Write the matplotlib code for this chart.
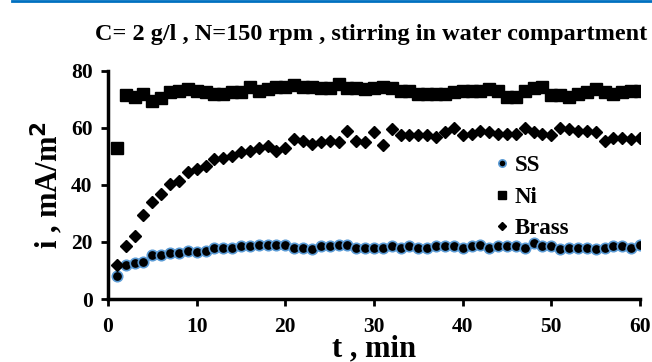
import matplotlib
matplotlib.use("Agg")
import matplotlib.pyplot as plt
from matplotlib.lines import Line2D

# time axis, minutes
t = list(range(1, 61))

# current density, mA/m2
ss = [8, 12, 12.5, 13, 15.5, 15.5, 16, 16, 17, 16.5,
      17, 18, 18, 18, 18.5, 18.5, 19, 19, 19, 19,
      18, 18, 17.5, 18.5, 18.5, 19, 19, 18, 18, 18,
      18, 18.5, 18, 18.5, 18, 18, 18.5, 18.5, 18.5, 18,
      18.5, 19, 18, 18.5, 18.5, 18.5, 18, 19.5, 18.5, 18.5,
      17.5, 18, 18, 18, 17.5, 18, 18.5, 18.5, 18, 19]
ni = [53, 71.5, 71, 72, 69.5, 70.5, 72.5, 73, 73.5, 73,
      72.5, 72, 72, 72.5, 72.5, 74.5, 73, 73.5, 74.5, 74.5,
      75, 74.5, 74.5, 74, 74, 75.5, 74, 74, 73.5, 74,
      74.5, 74, 73, 73, 72, 72, 72, 72, 72.5, 73,
      73, 73, 73.5, 73, 71, 71, 73, 74, 74.5, 71.5,
      71.5, 71, 72, 72.5, 73.5, 72.5, 72, 72.5, 73, 73]
brass = [12, 18.5, 22, 29.5, 34, 37, 40.5, 41.5, 44.5, 45.5,
         46.5, 49, 49.5, 50, 51.5, 52, 53, 53.5, 52, 53,
         56, 55.5, 54.5, 55, 55.5, 55, 59, 55.5, 55, 58.5,
         54, 59.5, 57.5, 57.5, 57.5, 57.5, 57, 58.5, 60, 57.5,
         58, 59, 58.5, 58, 58, 58, 60, 58.5, 58, 57.5,
         60, 59.5, 59, 59, 58.5, 55.5, 56.5, 56.5, 56, 56.5]

plt.rcParams["font.family"] = "Liberation Serif"
plt.rcParams["font.weight"] = "bold"

fig = plt.figure(figsize=(6.52, 3.62), dpi=100)
ax = fig.add_axes([0.1656, 0.174, 0.816, 0.630])

ax.plot(t, ss, "o", ms=7.5, mfc="black", mec="#5B9BD5", mew=1.2, label="SS")
ax.plot(t, ni, "s", ms=8.5, color="black", label="Ni")
ax.plot(t, brass, "D", ms=6.5, color="black", label="Brass")

ax.set_xlim(0, 60)
ax.set_ylim(0, 80)
ax.set_xticks(range(0, 61, 10))
ax.set_yticks(range(0, 81, 20))

for side in ("top", "right"):
    ax.spines[side].set_visible(False)
for side in ("left", "bottom"):
    ax.spines[side].set_linewidth(2.5)
ax.tick_params(width=2, length=5, direction="out", labelsize=15.5)
ax.tick_params(axis="x", pad=8)
ax.tick_params(axis="y", pad=6)
for label in ax.get_xticklabels() + ax.get_yticklabels():
    label.set_fontweight("bold")

ax.set_xlabel("t , min", fontsize=22, fontweight="bold", labelpad=-2)
ax.set_ylabel("i , mA/m$^\\mathbf{2}$", fontsize=22, fontweight="bold", labelpad=4)
ax.text(0.494, 1.16, "C= 2 g/l , N=150 rpm , stirring in water compartment",
        transform=ax.transAxes, ha="center", va="center",
        fontsize=17.5, fontweight="bold")

leg = ax.legend(loc="upper left", bbox_to_anchor=(0.698, 0.68), frameon=False,
                fontsize=16.5, markerscale=0.7, handletextpad=0.05,
                handlelength=1.0, labelspacing=0.45, borderpad=0)
for txt in leg.get_texts():
    txt.set_fontweight("bold")

# thin rule along the top edge
fig.add_artist(Line2D([0.018, 1.0], [0.997, 0.997], transform=fig.transFigure,
                      color="#0070C0", lw=2))

fig.savefig("out.png", dpi=100)
